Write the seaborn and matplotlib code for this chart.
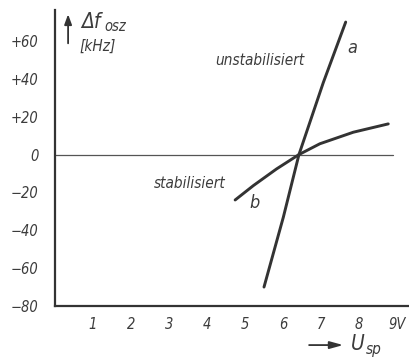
import numpy as np
import pandas as pd
import matplotlib
matplotlib.use("Agg")
import matplotlib.pyplot as plt
import seaborn as sns

# Oscillator frequency drift vs. varactor voltage
u_a = [5.50, 6.01, 6.42, 7.06, 7.65]
df_a = [-70, -33, 0, 38, 70]
u_b = [4.74, 5.22, 5.83, 6.42, 6.97, 7.85, 8.77]
df_b = [-24, -16.4, -7.6, 0, 5.7, 11.8, 16.2]

x_ticks = [1, 2, 3, 4, 5, 6, 7, 8, 9]
x_ticklabels = ["1", "2", "3", "4", "5", "6", "7", "8", "9V"]
y_ticks = [60, 40, 20, 0, -20, -40, -60, -80]
y_ticklabels = ["+60", "+40", "+20", "0", "\u221220", "\u221240", "\u221260", "\u221280"]

sns.set_style("white")
plt.rcParams["font.family"] = ["DejaVu Sans"]
plt.rcParams["font.stretch"] = "condensed"
plt.rcParams["font.style"] = "italic"

ink = "#333333"
txt = "#3c3c3c"

data = pd.concat([
    pd.DataFrame({"U": u_a, "df": df_a, "curve": "a"}),
    pd.DataFrame({"U": u_b, "df": df_b, "curve": "b"}),
])

fig = plt.figure(figsize=(4.09, 3.63), dpi=100)
ax = fig.add_axes([55 / 409, 57 / 363, 354 / 409, 296 / 363])

sns.lineplot(data=data, x="U", y="df", units="curve", estimator=None,
             sort=False, color=ink, lw=2.1, ax=ax, legend=False)

ax.plot([0, 8.9], [0, 0], color="#555555", lw=0.9, zorder=1)

ax.set_xlim(0, 354 / 38)
ax.set_ylim(-80, -80 + 296 / 1.893)

for side in ["top", "right"]:
    ax.spines[side].set_visible(False)
for side in ["left", "bottom"]:
    ax.spines[side].set_color(ink)
    ax.spines[side].set_linewidth(1.6)

ax.set_xticks(x_ticks)
ax.set_xticklabels(x_ticklabels)
ax.set_yticks(y_ticks)
ax.set_yticklabels(y_ticklabels)
ax.tick_params(axis="both", direction="out", length=4, width=1.2, color=ink,
               labelsize=10.5, labelcolor=txt)
ax.tick_params(axis="y", pad=8)
ax.tick_params(axis="x", pad=4)
ax.set_xlabel("")
ax.set_ylabel("")

# curve labels
ax.text(5.39, 49.7, "unstabilisiert", ha="center", va="center", fontsize=11, color=txt)
ax.text(7.82, 56.5, "a", ha="center", va="center", fontsize=13, color=txt)
ax.text(3.55, -15.3, "stabilisiert", ha="center", va="center", fontsize=11, color=txt)
ax.text(5.24, -25.4, "b", ha="center", va="center", fontsize=13, color=txt)

# y-axis quantity with arrow
ax.annotate("", xy=(0.037, 0.995), xytext=(0.037, 0.878), xycoords="axes fraction",
            arrowprops=dict(arrowstyle="-|>,head_length=0.6,head_width=0.22",
                            color=ink, lw=1.3))
ax.text(0.075, 0.958, "\u0394f", transform=ax.transAxes, ha="left", va="center",
        fontsize=15, color=txt)
ax.text(0.14, 0.943, "osz", transform=ax.transAxes, ha="left", va="center",
        fontsize=10.5, color=txt)
ax.text(0.07, 0.878, "[kHz]", transform=ax.transAxes, ha="left", va="center",
        fontsize=11, color=txt)

# x-axis quantity with arrow
ax.annotate("", xy=(0.822, -0.132), xytext=(0.71, -0.132), xycoords="axes fraction",
            arrowprops=dict(arrowstyle="-|>,head_length=0.8,head_width=0.22",
                            color=ink, lw=1.3), annotation_clip=False)
ax.text(0.835, -0.13, "U", transform=ax.transAxes, ha="left", va="center",
        fontsize=15, color=txt)
ax.text(0.878, -0.148, "sp", transform=ax.transAxes, ha="left", va="center",
        fontsize=11, color=txt)

fig.savefig("out.png", dpi=100)
